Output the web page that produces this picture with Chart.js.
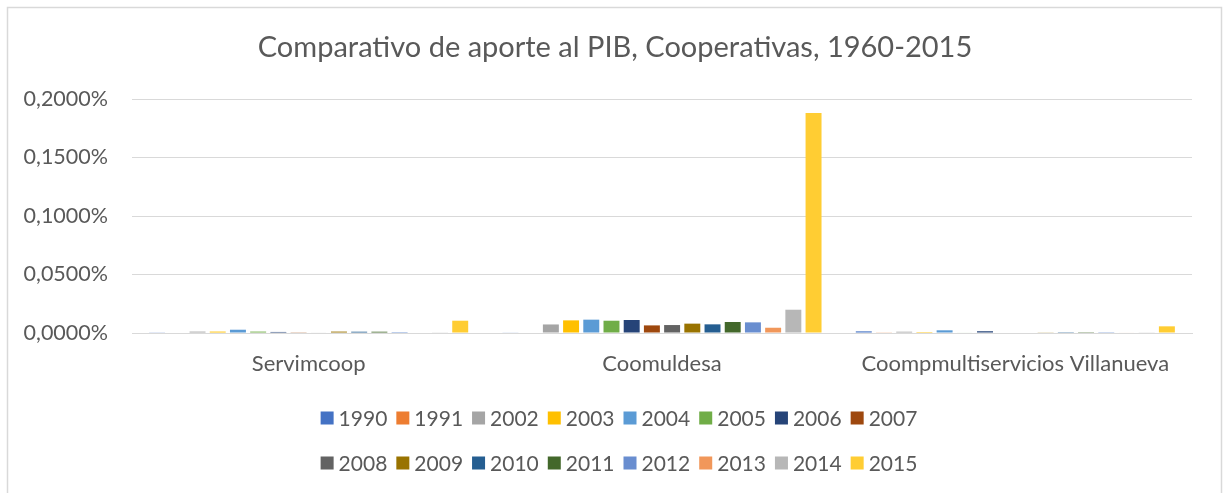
<!DOCTYPE html>
<html lang="es">
<head>
  <meta charset="UTF-8">
  <title>Comparativo de aporte al PIB</title>
  <script src="https://cdn.jsdelivr.net/npm/chart.js"></script>
  <style>
    body {
      margin: 0;
      background: white;
    }
    #wrap {
      width: 1230px;
      height: 493px;
    }
  </style>
</head>
<body>
  <div id="wrap"><canvas id="chart" width="1230" height="493"></canvas></div>
  <script>
    // values in percent of PIB
    const categories = ['Servimcoop', 'Coomuldesa', 'Coompmultiservicios Villanueva'];
    const years = ['1990', '1991', '2002', '2003', '2004', '2005', '2006', '2007',
                   '2008', '2009', '2010', '2011', '2012', '2013', '2014', '2015'];
    const colors = ['#4472C4', '#ED7D31', '#A5A5A5', '#FFC000', '#5B9BD5', '#70AD47', '#264478', '#9E480E',
                    '#636363', '#997300', '#255E91', '#43682B', '#698ED0', '#F1975A', '#B7B7B7', '#FFCD33'];
    const servimcoop = [0.0003, 0, 0.0012, 0.0012, 0.0028, 0.0012, 0.0009, 0.0006,
                        0.0004, 0.0012, 0.0011, 0.0011, 0.0008, 0, 0.0003, 0.0105];
    const coomuldesa = [0.0005, 0, 0.0073, 0.0108, 0.0114, 0.0105, 0.0111, 0.0065,
                        0.0068, 0.0080, 0.0074, 0.0094, 0.0091, 0.0045, 0.0199, 0.1880];
    const villanueva = [0.0014, 0.0003, 0.0011, 0.0008, 0.0023, 0.0004, 0.0015, 0,
                        0, 0.0003, 0.0007, 0.0007, 0.0007, 0.0004, 0.0003, 0.0057];
    const yTicks = [0, 0.05, 0.1, 0.15, 0.2];

    const FONT = 'Lato, "Open Sans", sans-serif';
    const TEXT = '#595959';

    const datasets = years.map((y, i) => ({
      label: y,
      data: [servimcoop[i], coomuldesa[i], villanueva[i]],
      backgroundColor: colors[i],
      borderWidth: 0
    }));

    // legend drawn in two rows like the excel one
    const legendRows = {
      id: 'legendRows',
      beforeDraw(chart) {
        const ctx = chart.ctx;
        ctx.save();
        ctx.strokeStyle = '#d9d9d9';
        ctx.lineWidth = 1.5;
        ctx.strokeRect(7.5, 7.5, 1214, 600);
        ctx.restore();
      },
      afterDraw(chart) {
        const ctx = chart.ctx;
        const box = 13, gap = 5, space = 9;
        ctx.save();
        ctx.font = '21px ' + FONT;
        ctx.textBaseline = 'middle';
        const rows = [years.slice(0, 8), years.slice(8)];
        const rowY = [418, 463];
        rows.forEach((row, r) => {
          const widths = row.map(t => box + gap + ctx.measureText(t).width);
          const total = widths.reduce((a, b) => a + b, 0) + space * (row.length - 1);
          let x = 619 - total / 2;
          row.forEach((t, k) => {
            const idx = r * 8 + k;
            ctx.fillStyle = colors[idx];
            ctx.fillRect(x, rowY[r] - box / 2, box, box);
            ctx.fillStyle = TEXT;
            ctx.fillText(t, x + box + gap, rowY[r] + 1);
            x += widths[k] + space;
          });
        });
        ctx.restore();
      }
    };

    new Chart(document.getElementById('chart'), {
      type: 'bar',
      data: { labels: categories, datasets: datasets },
      options: {
        responsive: false,
        animation: false,
        categoryPercentage: 0.915,
        barPercentage: 0.79,
        layout: { padding: 0 },
        plugins: {
          legend: { display: false },
          tooltip: { enabled: false },
          title: {
            display: true,
            text: 'Comparativo de aporte al PIB, Cooperativas, 1960-2015',
            color: TEXT,
            font: { family: FONT, size: 29, weight: 'normal', lineHeight: 1.2 },
            padding: { top: 30, bottom: 34.2 }
          }
        },
        scales: {
          x: {
            grid: { display: false, drawTicks: false },
            border: { display: true, color: '#d9d9d9', width: 1 },
            ticks: { color: TEXT, font: { family: FONT, size: 22 }, padding: 18 },
            afterFit(scale) { scale.height = 160; }
          },
          y: {
            min: 0,
            max: 0.2,
            afterBuildTicks(scale) { scale.ticks = yTicks.map(v => ({ value: v })); },
            grid: { color: '#d9d9d9', drawTicks: false },
            border: { display: false },
            ticks: {
              color: TEXT,
              font: { family: FONT, size: 21.5 },
              padding: 24,
              callback: v => v.toFixed(4).replace('.', ',') + '%'
            },
            afterFit(scale) { scale.width = 132; }
          },
          // empty right-hand margin, keeps the title centred on the whole chart
          yRight: {
            position: 'right',
            min: 0,
            max: 0.2,
            grid: { display: false, drawTicks: false },
            border: { display: false },
            ticks: { display: false },
            afterFit(scale) { scale.width = 38; }
          }
        }
      },
      plugins: [legendRows]
    });
  </script>
</body>
</html>
